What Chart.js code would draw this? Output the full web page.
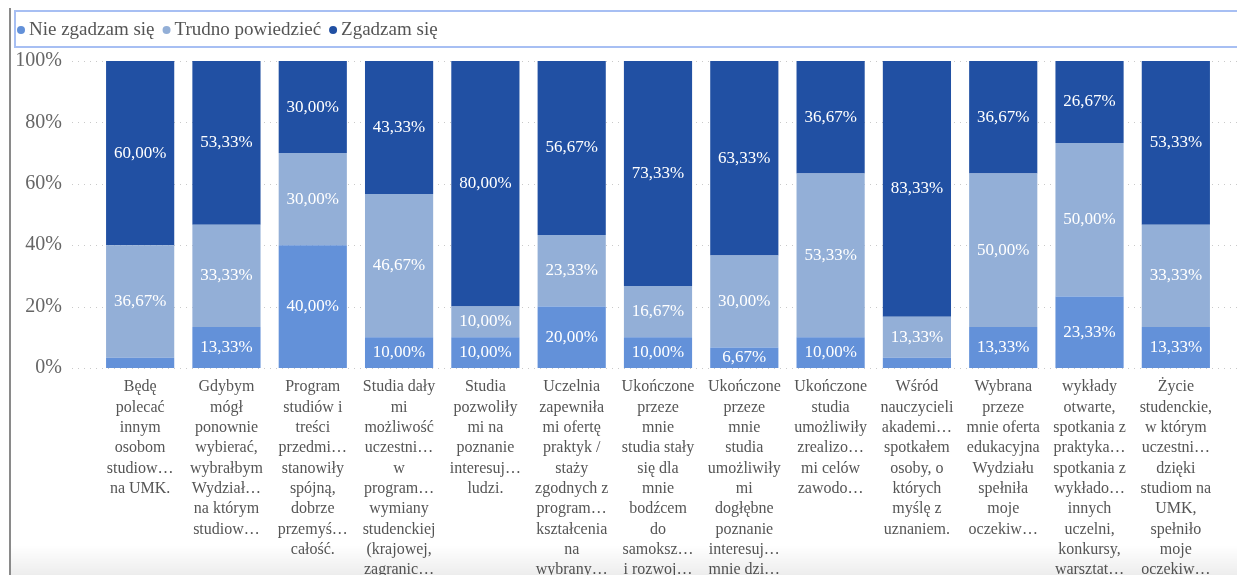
<!DOCTYPE html>
<html>
<head>
<meta charset="utf-8">
<script src="https://cdn.jsdelivr.net/npm/chart.js@4.4.1/dist/chart.umd.min.js"></script>
<style>
    html, body { margin: 0; padding: 0; background: #fff; overflow: hidden; }
    #wrap { width: 1237px; height: 575px; }
</style>
</head>
<body>
<div id="wrap"><canvas id="chart-survey" width="1237" height="575"></canvas></div>
<script>
// Data
// -----------------------------------
var categories = [
    ['Będę', 'polecać', 'innym', 'osobom', 'studiow…', 'na UMK.'],
    ['Gdybym', 'mógł', 'ponownie', 'wybierać,', 'wybrałbym', 'Wydział…', 'na którym', 'studiow…'],
    ['Program', 'studiów i', 'treści', 'przedmi…', 'stanowiły', 'spójną,', 'dobrze', 'przemyś…', 'całość.'],
    ['Studia dały', 'mi', 'możliwość', 'uczestni…', 'w', 'program…', 'wymiany', 'studenckiej', '(krajowej,', 'zagranic…'],
    ['Studia', 'pozwoliły', 'mi na', 'poznanie', 'interesuj…', 'ludzi.'],
    ['Uczelnia', 'zapewniła', 'mi ofertę', 'praktyk /', 'staży', 'zgodnych z', 'program…', 'kształcenia', 'na', 'wybrany…'],
    ['Ukończone', 'przeze', 'mnie', 'studia stały', 'się dla', 'mnie', 'bodźcem', 'do', 'samoksz…', 'i rozwoj…'],
    ['Ukończone', 'przeze', 'mnie', 'studia', 'umożliwiły', 'mi', 'dogłębne', 'poznanie', 'interesuj…', 'mnie dzi…'],
    ['Ukończone', 'studia', 'umożliwiły', 'zrealizo…', 'mi celów', 'zawodo…'],
    ['Wśród', 'nauczycieli', 'akademi…', 'spotkałem', 'osoby, o', 'których', 'myślę z', 'uznaniem.'],
    ['Wybrana', 'przeze', 'mnie oferta', 'edukacyjna', 'Wydziału', 'spełniła', 'moje', 'oczekiw…'],
    ['wykłady', 'otwarte,', 'spotkania z', 'praktyka…', 'spotkania z', 'wykłado…', 'innych', 'uczelni,', 'konkursy,', 'warsztat…'],
    ['Życie', 'studenckie,', 'w którym', 'uczestni…', 'dzięki', 'studiom na', 'UMK,', 'spełniło', 'moje', 'oczekiw…']
];
var seriesNames = ['Nie zgadzam się', 'Trudno powiedzieć', 'Zgadzam się'];
var nieZgadzam = [3.33, 13.33, 40.00, 10.00, 10.00, 20.00, 10.00, 6.67, 10.00, 3.33, 13.33, 23.33, 13.33];
var trudno = [36.67, 33.33, 30.00, 46.67, 10.00, 23.33, 16.67, 30.00, 53.33, 13.33, 50.00, 50.00, 33.33];
var zgadzam = [60.00, 53.33, 30.00, 43.33, 80.00, 56.67, 73.33, 63.33, 36.67, 83.33, 36.67, 26.67, 53.33];
var yTicks = [0, 20, 40, 60, 80, 100];

var colors = ['#6391d9', '#93afd7', '#2150a3'];
var serif = '"Liberation Serif", "Times New Roman", serif';

// Plugins
// -----------------------------------
var frame = {
    id: 'frame',
    beforeDraw: function (chart) {
        var ctx = chart.ctx;
        var y = chart.scales.y;
        ctx.save();
        // dotted grid
        ctx.strokeStyle = '#c9c9c9';
        ctx.lineWidth = 1;
        ctx.setLineDash([1, 5]);
        yTicks.forEach(function (v) {
            var py = Math.round(y.getPixelForValue(v)) + 0.5;
            ctx.beginPath();
            ctx.moveTo(72, py);
            ctx.lineTo(1237, py);
            ctx.stroke();
        });
        ctx.setLineDash([]);
        // legend box + left rule
        ctx.strokeStyle = '#a7bff3';
        ctx.lineWidth = 2;
        ctx.strokeRect(15, 11, 1240, 36);
        ctx.strokeStyle = '#8a8a8a';
        ctx.beginPath();
        ctx.moveTo(10, 8);
        ctx.lineTo(10, 575);
        ctx.stroke();
        ctx.restore();
    },
    afterDraw: function (chart) {
        var ctx = chart.ctx;
        ctx.save();
        // legend
        ctx.font = '19px ' + serif;
        ctx.textBaseline = 'middle';
        var cx = 21;
        chart.data.datasets.forEach(function (ds) {
            ctx.fillStyle = ds.backgroundColor;
            ctx.beginPath();
            ctx.arc(cx, 30, 4, 0, Math.PI * 2);
            ctx.fill();
            ctx.fillStyle = '#555';
            ctx.fillText(ds.label, cx + 8, 30);
            cx += 8 + ctx.measureText(ds.label).width + 12;
        });
        // bottom fade
        var g = ctx.createLinearGradient(0, 545, 0, 575);
        g.addColorStop(0, 'rgba(0,0,0,0)');
        g.addColorStop(1, 'rgba(0,0,0,0.07)');
        ctx.fillStyle = g;
        ctx.fillRect(11, 545, 1226, 30);
        ctx.restore();
    }
};

var valueLabels = {
    id: 'valueLabels',
    afterDatasetsDraw: function (chart) {
        var ctx = chart.ctx;
        ctx.save();
        ctx.font = '17px ' + serif;
        ctx.fillStyle = '#ffffff';
        ctx.textAlign = 'center';
        ctx.textBaseline = 'middle';
        chart.data.datasets.forEach(function (ds, i) {
            var meta = chart.getDatasetMeta(i);
            meta.data.forEach(function (bar, j) {
                var v = ds.data[j];
                if (v < 5) return;
                var p = bar.getProps(['x', 'y', 'base'], true);
                ctx.fillText(v.toFixed(2).replace('.', ',') + '%', p.x, (p.y + p.base) / 2);
            });
        });
        ctx.restore();
    }
};

// Chart
// -----------------------------------
var ctx = document.getElementById('chart-survey').getContext('2d');
var surveyChart = new Chart(ctx, {
    type: 'bar',
    data: {
        labels: categories,
        datasets: [{
            label: seriesNames[0],
            data: nieZgadzam,
            backgroundColor: colors[0]
        }, {
            label: seriesNames[1],
            data: trudno,
            backgroundColor: colors[1]
        }, {
            label: seriesNames[2],
            data: zgadzam,
            backgroundColor: colors[2]
        }]
    },
    options: {
        responsive: false,
        animation: false,
        barPercentage: 0.79,
        categoryPercentage: 1,
        layout: {
            padding: { top: 61, right: 18, left: 6, bottom: 0 }
        },
        plugins: {
            tooltip: { enabled: false },
            legend: { display: false }
        },
        scales: {
            x: {
                stacked: true,
                grid: { display: false, drawTicks: false },
                border: { display: false },
                ticks: {
                    autoSkip: false,
                    maxRotation: 0,
                    padding: 9,
                    color: '#555',
                    font: { family: serif, size: 16, lineHeight: 1.27 }
                },
                afterFit: function (scale) {
                    scale.height = 207;
                }
            },
            y: {
                stacked: true,
                min: 0,
                max: 100,
                grid: { display: false, drawTicks: false },
                border: { display: false },
                ticks: {
                    stepSize: 20,
                    padding: 35,
                    color: '#666',
                    font: { family: serif, size: 20 },
                    callback: function (v) { return v + '%'; }
                },
                afterFit: function (scale) {
                    scale.width = 91;
                }
            }
        }
    },
    plugins: [frame, valueLabels]
});
</script>
</body>
</html>
